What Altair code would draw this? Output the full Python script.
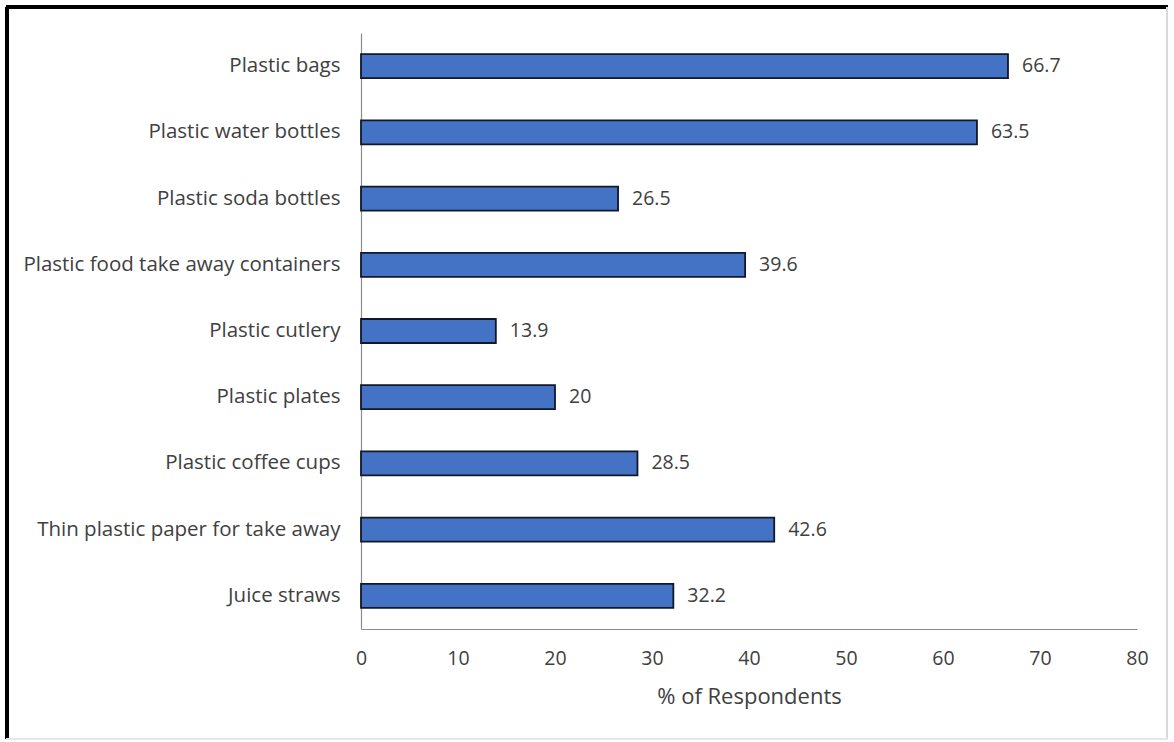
import altair as alt
import pandas as pd

categories = [
    "Plastic bags",
    "Plastic water bottles",
    "Plastic soda bottles",
    "Plastic food take away containers",
    "Plastic cutlery",
    "Plastic plates",
    "Plastic coffee cups",
    "Thin plastic paper for take away",
    "Juice straws",
]
values = [66.7, 63.5, 26.5, 39.6, 13.9, 20, 28.5, 42.6, 32.2]
x_ticks = [0, 10, 20, 30, 40, 50, 60, 70, 80]

df = pd.DataFrame({"item": categories, "pct": values})
df["label"] = [("%g" % v) for v in values]

FONT = "Open Sans"
TXT = "#404040"

W, H = 776, 596

y_enc = alt.Y("item:N", sort=categories, title=None,
              axis=alt.Axis(labelFont=FONT, labelFontSize=20.5, labelColor=TXT,
                            labelPadding=21, ticks=False, domainColor="#8c8c8c",
                            domainWidth=1.2, labelLimit=400))
x_enc = alt.X("pct:Q", scale=alt.Scale(domain=[0, 80], nice=False),
              title="% of Respondents",
              axis=alt.Axis(values=x_ticks, grid=False, ticks=False,
                            labelFont=FONT, labelFontSize=19.5, labelColor=TXT,
                            labelFlush=False, labelPadding=20,
                            domainColor="#8c8c8c", domainWidth=1.2,
                            titleFont=FONT, titleFontSize=22, titleColor=TXT,
                            titleFontWeight="normal", titlePadding=19))

base = alt.Chart(df)
bars = base.mark_bar(size=24, color="#4472C4", stroke="#111827", strokeWidth=1.8).encode(
    x=x_enc, y=y_enc)
labels = base.mark_text(align="left", baseline="middle", dx=14, font=FONT,
                        fontSize=19.5, color=TXT).encode(
    x="pct:Q", y=alt.Y("item:N", sort=categories), text="label:N")

frame_left = alt.Chart(df).mark_rule(color="black", strokeWidth=3).encode(
    x=alt.value(-354), y=alt.value(-26), y2=alt.value(H + 110))
frame_top = alt.Chart(df).mark_rule(color="black", strokeWidth=3).encode(
    x=alt.value(-355), x2=alt.value(W + 31), y=alt.value(-26))
frame_right = alt.Chart(df).mark_rule(color="#d9d9d9", strokeWidth=1.5).encode(
    x=alt.value(W + 30), y=alt.value(-26), y2=alt.value(H + 110))
frame_bottom = alt.Chart(df).mark_rule(color="#e6e6e6", strokeWidth=1.5).encode(
    x=alt.value(-355), x2=alt.value(W + 31), y=alt.value(H + 110))

chart = alt.layer(bars, labels, frame_left, frame_top, frame_right, frame_bottom).properties(
    width=W, height=H,
    background="white",
    autosize=alt.AutoSizeParams(type="none"),
    padding={"left": 361, "top": 33, "right": 37, "bottom": 113},
).configure_view(stroke=None, strokeWidth=0)

chart.save("out.html", embed_options={"renderer": "svg", "actions": False})
